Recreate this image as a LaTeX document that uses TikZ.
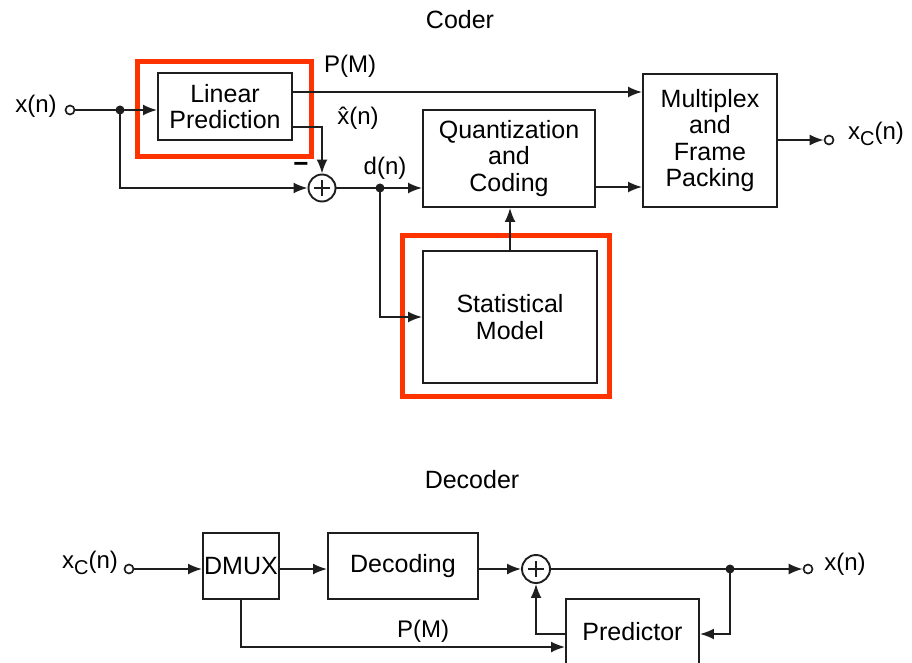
\documentclass[tikz,border=0pt]{standalone}
\usepackage{fontspec}
\setmainfont{Liberation Sans}
\usetikzlibrary{arrows.meta}

\definecolor{ink}{HTML}{1E1E1E}
\definecolor{hilite}{HTML}{FF3300}

\tikzset{
  every picture/.style={x=1pt,y=-1pt},
  wire/.style={draw=ink,line width=1.9pt},
  arr/.style={wire,-{Latex[length=14pt,width=11pt]}},
  blk/.style={draw=ink,line width=1.9pt,fill=white,align=center,inner sep=0pt,
              font=\fontsize{25}{26.5}\selectfont},
  lbl/.style={inner sep=0pt,font=\fontsize{24}{26}\selectfont},
  ttl/.style={inner sep=0pt,font=\fontsize{25}{27}\selectfont},
  summer/.style={circle,draw=ink,line width=1.9pt,minimum size=#1,inner sep=0pt},
  term/.style={circle,draw=ink,line width=1.7pt,fill=white,minimum size=9pt,inner sep=0pt},
  jn/.style={circle,fill=ink,minimum size=9pt,inner sep=0pt},
  frame/.style={draw=hilite,line width=5pt},
}
\newcommand{\xc}{x\raisebox{-6pt}{\fontsize{20}{20}\selectfont C}(n)}

\begin{document}
\begin{tikzpicture}
\useasboundingbox (0,0) rectangle (912,663);
\clip (0,0) rectangle (912,663);

% ---------------- Coder ----------------
\node[ttl] (tcoder) at (460,20) {Coder};

\node[blk,minimum width=134pt,minimum height=67pt] (lp) at (225,106.5) {Linear\\Prediction};
\node[blk,minimum width=172pt,minimum height=97pt] (qc) at (509,158.5) {Quantization\\and\\Coding};
\node[blk,minimum width=134pt,minimum height=133pt] (mux) at (710,140.5) {Multiplex\\and\\Frame\\Packing};
\node[blk,minimum width=174pt,minimum height=132pt] (sm) at (510,317) {Statistical\\Model};

% highlight frames
\draw[frame] (137,62) rectangle (311,157);
\draw[frame] (402,235) rectangle (609,396);

\node[summer=27pt] (s1) at (322,188) {};
\draw[wire,line width=1.5pt] ([xshift=-8pt]s1.center) -- ([xshift=8pt]s1.center)
  ([yshift=-8pt]s1.center) -- ([yshift=8pt]s1.center);

\node[term] (xin) at (70,110) {};
\node[term] (xcout) at (829,140) {};
\node[jn] (j1) at (120,110) {};
\node[jn] (j2) at (380,188) {};

\coordinate (ypm) at (0,92);
\coordinate (yxh) at (0,127);
\coordinate (yqo) at (0,187);

\draw[arr] (xin.east) -- (xin.east -| lp.west);
\draw[arr] (j1.center) |- (s1.west);
\draw[arr] (lp.east |- ypm) -- (mux.west |- ypm);
\draw[arr] (lp.east |- yxh) -| (s1.north);
\draw[arr] (s1.east) -- (s1.east -| qc.west);
\draw[arr] (j2.center) |- (sm.west);
\draw[arr] (sm.north) -- (sm.north |- qc.south);
\draw[arr] (qc.east |- yqo) -- (mux.west |- yqo);
\draw[arr] (mux.east |- xcout) -- (xcout.west);

\node[lbl] (lxin) at (36,106) {x(n)};
\node[lbl] (lpm) at (350,66) {P(M)};
\node[lbl] (lxh) at (358,118) {\^{x}(n)};
\node[lbl,font=\fontsize{26}{26}\bfseries] (lmin) at (301,167) {−};
\node[lbl] (ldn) at (385,168) {d(n)};
\node[lbl,anchor=west] (lxc) at (848,134) {\xc};

% ---------------- Decoder ----------------
\node[ttl] (tdecoder) at (472,480) {Decoder};

\node[blk,minimum width=76pt,minimum height=66pt] (dmux) at (241,566) {DMUX};
\node[blk,minimum width=150pt,minimum height=66pt] (dec) at (403,566) {Decoding};
\node[blk,minimum width=133pt,minimum height=72pt] (pred) at (632.5,635) {};
\node[lbl,font=\fontsize{25}{26}\selectfont] (tpred) at (632.5,632) {Predictor};

\node[summer=28pt] (s2) at (536,569) {};
\draw[wire,line width=1.5pt] ([xshift=-8pt]s2.center) -- ([xshift=8pt]s2.center)
  ([yshift=-8pt]s2.center) -- ([yshift=8pt]s2.center);

\node[term] (xcin) at (129,569) {};
\node[term] (xdout) at (808,569) {};
\node[jn] (j3) at (730,569) {};

\coordinate (ymain) at (0,569);
\coordinate (yfb) at (0,634);
\coordinate (ypr) at (0,647);

\draw[arr] (xcin.east) -- (dmux.west |- ymain);
\draw[arr] (dmux.east |- ymain) -- (dec.west |- ymain);
\draw[arr] (dec.east |- ymain) -- (s2.west);
\draw[arr] (s2.east) -- (xdout.west);
\draw[arr] (j3.center) |- (pred.east |- yfb);
\draw[arr] (pred.west |- yfb) -| (s2.south);
\draw[arr] (dmux.south) |- (pred.west |- ypr);

\node[lbl] (lxcin) at (90,563) {\xc};
\node[lbl] (lxout) at (845,564) {x(n)};
\node[lbl] (lpm2) at (423,631) {P(M)};
\end{tikzpicture}
\end{document}
